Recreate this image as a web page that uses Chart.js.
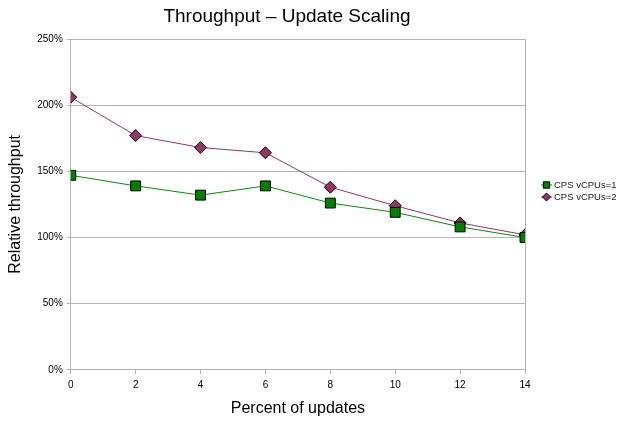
<!DOCTYPE html>
<html>
<head>
<meta charset="utf-8">
<script src="https://cdn.jsdelivr.net/npm/chart.js@4"></script>
<style>
  html, body { margin: 0; padding: 0; background: #fff; }
  #wrap { width: 624px; height: 430px; }
</style>
</head>
<body>
<div id="wrap"><canvas id="chart"></canvas></div>
<script>
// Chart data
const updatePercents = [0, 2, 4, 6, 8, 10, 12, 14];
const cpsOneVcpu = [147, 139, 132, 139, 126, 119, 108, 100];
const cpsTwoVcpu = [206, 177, 168, 164, 138, 124, 111, 102];
const seriesNames = ['CPS vCPUs=1', 'CPS vCPUs=2'];
const chartTitle = 'Throughput \u2013 Update Scaling';

const gridColor = '#b3b3b3';
const fontFamily = '"Liberation Sans", Arial, sans-serif';

function toPoints(values) {
    return updatePercents.map((x, i) => ({ x: x, y: values[i] }));
}

// Title sits a bit left of the canvas centre, so draw it ourselves
const topTitle = {
    id: 'topTitle',
    afterDraw(chart) {
        const ctx = chart.ctx;
        ctx.save();
        ctx.fillStyle = '#000';
        ctx.font = '19px ' + fontFamily;
        ctx.textAlign = 'center';
        ctx.textBaseline = 'middle';
        ctx.fillText(chartTitle, 287, 17);
        ctx.restore();
    }
};

// Legend to the right of the plot: short line with the marker on it
const sideLegend = {
    id: 'sideLegend',
    afterDraw(chart) {
        const ctx = chart.ctx;
        const left = chart.chartArea.right + 16;
        const top = 185;
        ctx.save();
        chart.data.datasets.forEach((ds, i) => {
            const y = top + i * 12;
            ctx.strokeStyle = ds.borderColor;
            ctx.lineWidth = 1;
            ctx.beginPath();
            ctx.moveTo(left, y);
            ctx.lineTo(left + 11, y);
            ctx.stroke();
            ctx.fillStyle = ds.pointBackgroundColor;
            ctx.strokeStyle = ds.pointBorderColor;
            Chart.helpers.drawPoint(ctx, {
                pointStyle: ds.pointStyle,
                radius: ds.pointStyle === 'rect' ? 4.5 : 4,
                borderWidth: 1
            }, left + 5.5, y);
            ctx.fillStyle = '#1a1a1a';
            ctx.font = '9.5px ' + fontFamily;
            ctx.textBaseline = 'middle';
            ctx.fillText(ds.label, left + 13, y);
        });
        ctx.restore();
    }
};

const chart = new Chart(document.getElementById('chart'), {
    type: 'line',
    data: {
        datasets: [{
            label: seriesNames[0],
            data: toPoints(cpsOneVcpu),
            borderColor: '#0a8a0a',
            backgroundColor: '#008000',
            borderWidth: 1,
            pointStyle: 'rect',
            pointRadius: 7,
            pointHoverRadius: 7,
            pointBackgroundColor: '#008000',
            pointBorderColor: '#000',
            pointBorderWidth: 1,
            tension: 0
        }, {
            label: seriesNames[1],
            data: toPoints(cpsTwoVcpu),
            borderColor: '#993366',
            backgroundColor: '#993366',
            borderWidth: 1,
            pointStyle: 'rectRot',
            pointRadius: 6,
            pointHoverRadius: 6,
            pointBackgroundColor: '#993366',
            pointBorderColor: '#000',
            pointBorderWidth: 1,
            tension: 0
        }]
    },
    options: {
        responsive: true,
        maintainAspectRatio: false,
        animation: false,
        layout: { padding: { top: 39, right: 99, bottom: 12, left: 6 } },
        plugins: {
            legend: { display: false },
            tooltip: { enabled: false },
            title: { display: false }
        },
        scales: {
            x: {
                type: 'linear',
                min: 0,
                max: 14,
                ticks: {
                    stepSize: 2,
                    color: '#000',
                    font: { family: fontFamily, size: 10 },
                    padding: 5
                },
                grid: {
                    color: ctx => (ctx.tick && ctx.tick.value === 14) ? gridColor : 'transparent',
                    tickColor: gridColor,
                    tickLength: 4
                },
                border: { color: gridColor },
                title: {
                    display: true,
                    text: 'Percent of updates',
                    color: '#000',
                    font: { family: fontFamily, size: 16 },
                    padding: { top: 3, bottom: 0 }
                }
            },
            y: {
                min: 0,
                max: 250,
                ticks: {
                    stepSize: 50,
                    color: '#000',
                    font: { family: fontFamily, size: 10 },
                    padding: 4,
                    callback: v => v + '%'
                },
                grid: {
                    color: gridColor,
                    tickColor: gridColor,
                    tickLength: 4
                },
                border: { color: gridColor },
                title: {
                    display: true,
                    text: 'Relative throughput',
                    color: '#000',
                    font: { family: fontFamily, size: 16 },
                    padding: { top: 0, bottom: 8 }
                }
            }
        }
    },
    plugins: [topTitle, sideLegend]
});
</script>
</body>
</html>
